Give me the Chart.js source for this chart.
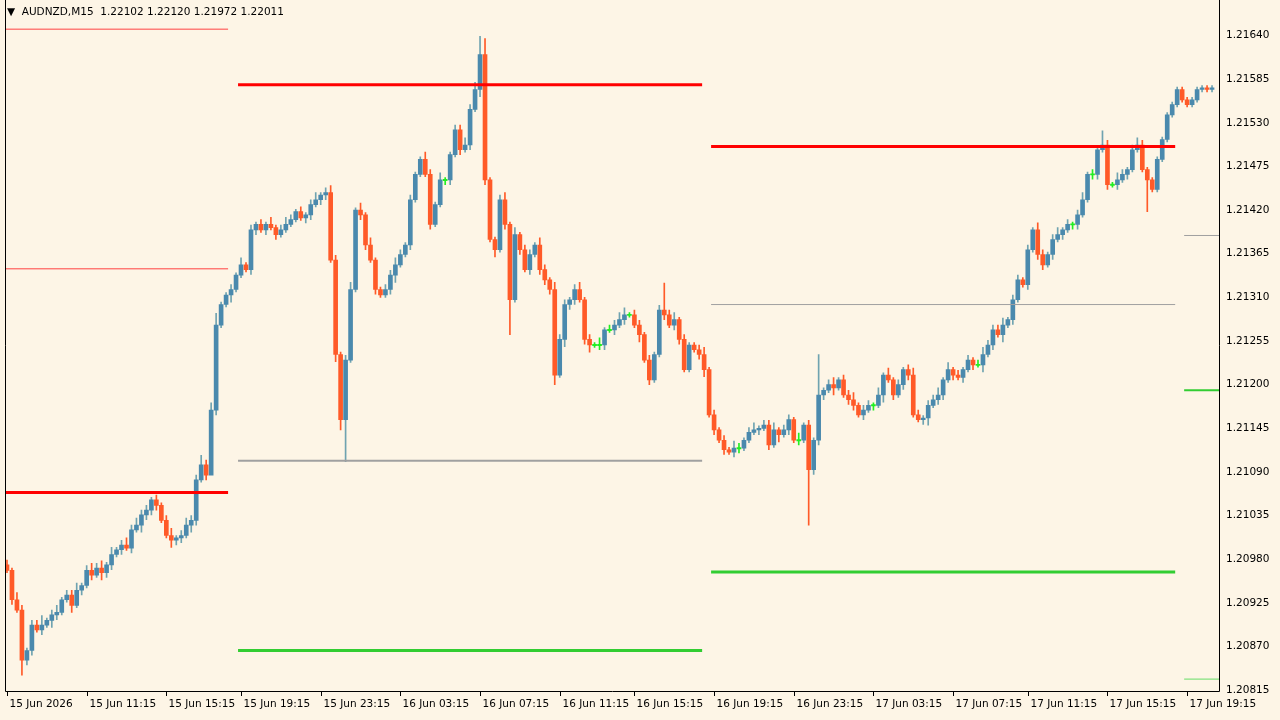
<!DOCTYPE html>
<html><head><meta charset="utf-8">
<script src="https://cdn.jsdelivr.net/npm/chart.js@4"></script>
<style>html,body{margin:0;padding:0;background:#fdf5e6}#w{width:1280px;height:720px}</style>
</head><body><div id="w"><canvas id="c"></canvas></div>
<script>
const closes=[1.20966,1.20929,1.20916,1.20853,1.20865,1.20897,1.20891,1.20897,1.20903,1.20910,1.20913,1.20929,1.20935,1.20922,1.20941,1.20947,1.20966,1.20960,1.20969,1.20963,1.20973,1.20986,1.20992,1.20998,1.20994,1.21017,1.21023,1.21036,1.21042,1.21055,1.21048,1.21029,1.21010,1.21004,1.21007,1.21010,1.21023,1.21029,1.21080,1.21099,1.21086,1.21168,1.21275,1.21301,1.21313,1.21320,1.21338,1.21351,1.21345,1.21395,1.21402,1.21395,1.21402,1.21398,1.21389,1.21395,1.21402,1.21408,1.21418,1.21410,1.21414,1.21427,1.21433,1.21439,1.21442,1.21357,1.21238,1.21156,1.21231,1.21320,1.21420,1.21414,1.21376,1.21357,1.21320,1.21313,1.21320,1.21338,1.21351,1.21364,1.21376,1.21433,1.21465,1.21484,1.21465,1.21402,1.21427,1.21458,1.21458,1.21490,1.21521,1.21496,1.21502,1.21547,1.21572,1.21616,1.21458,1.21383,1.21370,1.21433,1.21402,1.21307,1.21389,1.21370,1.21345,1.21364,1.21376,1.21345,1.21332,1.21320,1.21212,1.21257,1.21301,1.21307,1.21320,1.21307,1.21257,1.21250,1.21250,1.21250,1.21269,1.21269,1.21275,1.21282,1.21288,1.21288,1.21275,1.21263,1.21231,1.21206,1.21238,1.21294,1.21288,1.21275,1.21282,1.21257,1.21219,1.21250,1.21244,1.21238,1.21219,1.21162,1.21143,1.21130,1.21118,1.21115,1.21120,1.21120,1.21130,1.21140,1.21143,1.21145,1.21149,1.21124,1.21143,1.21137,1.21143,1.21156,1.21130,1.21130,1.21149,1.21093,1.21130,1.21187,1.21193,1.21200,1.21196,1.21206,1.21187,1.21181,1.21174,1.21162,1.21168,1.21174,1.21174,1.21187,1.21212,1.21206,1.21187,1.21200,1.21219,1.21212,1.21162,1.21156,1.21158,1.21174,1.21181,1.21187,1.21206,1.21219,1.21212,1.21209,1.21219,1.21231,1.21225,1.21225,1.21238,1.21250,1.21269,1.21263,1.21275,1.21282,1.21307,1.21332,1.21326,1.21370,1.21395,1.21364,1.21351,1.21364,1.21383,1.21389,1.21395,1.21402,1.21402,1.21414,1.21433,1.21465,1.21465,1.21496,1.21502,1.21452,1.21452,1.21458,1.21465,1.21471,1.21496,1.21502,1.21471,1.21458,1.21446,1.21484,1.21509,1.21540,1.21553,1.21572,1.21559,1.21553,1.21559,1.21572,1.21574,1.21572,1.21574];
const firstOpen=1.20973;
// wick lengths, digit = units of 0.00003
const upWick="2132122412312231232313123232212123123224231112131212131232121231232123131311223212113213112232312112313122132132212312131223312212121231211231212132123122312213121212312231221313121232122313121212322231221213212312123121221321232";
const dnWick="1212221213211312121322121213222113221321212113111221212111112212213111122121123112111211221212132131221212122211322123122121211312112122111231212122111212131212122221311221212131212211231221212121312131211212212121221122121212";
const highOverride={95:1.21639,96:1.21636,163:1.21238,220:1.21520,132:1.21328,42:1.21290};
const lowOverride={3:1.20834,67:1.21143,68:1.21103,101:1.21263,110:1.21200,161:1.21023,229:1.21418,41:1.21095};
const levels=[
 {from:-0.2,to:44.4,price:1.21648,color:'#ff4040',w:1},
 {from:-0.2,to:44.4,price:1.21346,color:'#ff4040',w:1},
 {from:-0.2,to:44.4,price:1.21064,color:'#ff0000',w:3},
 {from:46.4,to:139.6,price:1.21578,color:'#ff0000',w:3},
 {from:46.4,to:139.6,price:1.21104,color:'#a0a0a0',w:2},
 {from:46.4,to:139.6,price:1.20865,color:'#32cd32',w:3},
 {from:141.4,to:234.6,price:1.21500,color:'#ff0000',w:3},
 {from:141.4,to:234.6,price:1.21301,color:'#a0a0a0',w:1},
 {from:141.4,to:234.6,price:1.20964,color:'#32cd32',w:3},
 {from:236.4,to:243.5,price:1.21388,color:'#a0a0a0',w:1},
 {from:236.4,to:243.5,price:1.21193,color:'#32cd32',w:2},
 {from:236.4,to:243.5,price:1.20829,color:'#66dd66',w:1}
];
const yTicks=[1.21640,1.21585,1.21530,1.21475,1.21420,1.21365,1.21310,1.21255,1.21200,1.21145,1.21090,1.21035,1.20980,1.20925,1.20870,1.20815];
const timeIdx=[0,16,32,47,63,79,95,111,126,142,158,174,190,205,221,237];
const timeLabels=['15 Jun 2026','15 Jun 11:15','15 Jun 15:15','15 Jun 19:15','15 Jun 23:15','16 Jun 03:15','16 Jun 07:15','16 Jun 11:15','16 Jun 15:15','16 Jun 19:15','16 Jun 23:15','17 Jun 03:15','17 Jun 07:15','17 Jun 11:15','17 Jun 15:15','17 Jun 19:15'];

const BULL='#4a89ad',BULLW='#6fa3b0',BEAR='#ff5a28',DOJI='#22ee22';
const bodies=[],wicks=[],bc=[],wc=[];
closes.forEach((c,i)=>{
  const o=i===0?firstOpen:closes[i-1];
  let h=Math.max(o,c)+(+upWick[i]||1)*0.00003;
  let l=Math.min(o,c)-(+dnWick[i]||1)*0.00003;
  if(highOverride[i]) h=highOverride[i];
  if(lowOverride[i]) l=lowOverride[i];
  const col=c>o?BULL:(c<o?BEAR:DOJI);
  const body=Math.abs(c-o)<0.000015?[o-0.000008,o+0.000008]:[o,c];
  bodies.push({x:i,y:body});wicks.push({x:i,y:[l,h]});
  bc.push(col);wc.push(c>o?BULLW:(c<o?BEAR:DOJI));
});
const lineSets=levels.map(L=>({type:'line',data:[{x:L.from,y:L.price},{x:L.to,y:L.price}],borderColor:L.color,borderWidth:L.w,pointRadius:0,order:0}));

const deco={id:'deco',
 afterDraw(ch){const g=ch.ctx,a=ch.chartArea,xs=ch.scales.x;
  g.save();
  g.strokeStyle='#000';g.lineWidth=1;
  g.beginPath();g.moveTo(a.left+0.5,0);g.lineTo(a.left+0.5,a.bottom+0.5);g.lineTo(a.right+0.5,a.bottom+0.5);g.lineTo(a.right+0.5,0);g.stroke();
  g.font='10.5px "DejaVu Sans"';g.fillStyle='#000';g.textBaseline='top';g.textAlign='left';
  timeIdx.forEach((ix,k)=>{const px=Math.round(xs.getPixelForValue(ix))+0.5;
    g.beginPath();g.moveTo(px,a.bottom);g.lineTo(px,a.bottom+5);g.stroke();
    g.fillText(timeLabels[k],px+2,a.bottom+8);});
  g.textBaseline='middle';
  g.fillText('\u25BC  AUDNZD,M15  1.22102 1.22120 1.21972 1.22011',7,12);
  g.restore();}};

new Chart(document.getElementById('c'),{
 data:{datasets:[
  {type:'bar',data:wicks,backgroundColor:wc,barThickness:1,grouped:false,order:2},
  {type:'bar',data:bodies,backgroundColor:bc,barThickness:4,grouped:false,order:1},
  ...lineSets]},
 plugins:[deco],
 options:{responsive:true,maintainAspectRatio:false,animation:false,
  layout:{padding:{left:5,top:-4,right:0,bottom:0}},
  plugins:{legend:{display:false},tooltip:{enabled:false}},
  scales:{
   x:{type:'linear',offset:false,min:-0.4,max:243.4,grid:{display:false},border:{display:false},ticks:{display:false},
      afterFit(s){s.height=29;}},
   y:{position:'right',min:1.20814,max:1.21668,grid:{display:false,drawTicks:false},border:{display:false},
      afterBuildTicks(s){s.ticks=yTicks.map(v=>({value:v}));},
      afterFit(s){s.width=61;},
      ticks:{color:'#000',font:{family:'DejaVu Sans',size:10.5},padding:7,callback:v=>v.toFixed(5)}}
  }}
});
</script></body></html>
